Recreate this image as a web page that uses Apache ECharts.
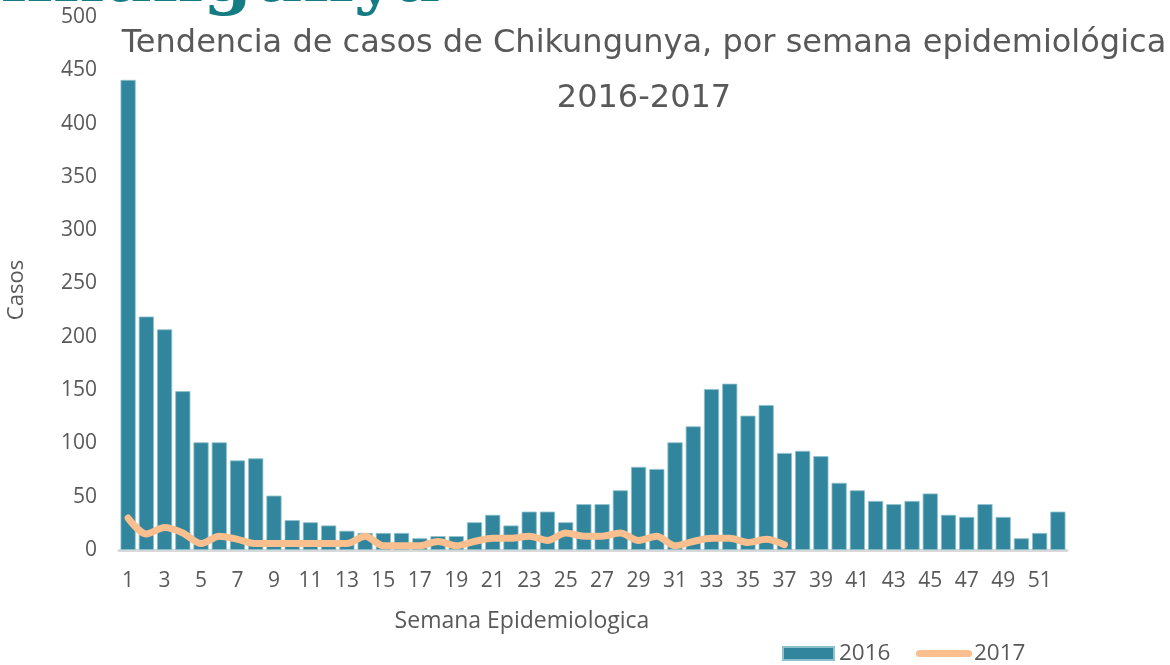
<!DOCTYPE html>
<html>
<head>
<meta charset="utf-8">
<script src="https://cdn.jsdelivr.net/npm/echarts@6/dist/echarts.min.js"></script>
<style>
html,body{margin:0;padding:0;background:#fff;}
#chart{width:1170px;height:665px;}
</style>
</head>
<body>
<div id="chart"></div>
<script>
const weeks = Array.from({length: 52}, (_, i) => String(i + 1));
const cases2016 = [441, 219, 207, 149, 101, 101, 84, 86, 51, 28, 26, 23, 18, 16, 16, 16, 11, 13, 13, 26,
  33, 23, 36, 36, 26, 43, 43, 56, 78, 76, 101, 116, 151, 156, 126, 136, 91, 93, 88, 63,
  56, 46, 43, 46, 53, 33, 31, 43, 31, 11, 16, 36];
const cases2017 = [30, 15, 21, 16, 6, 13, 10, 6, 6, 6, 6, 6, 6, 13, 4, 4, 4, 8, 4, 8,
  11, 11, 13, 9, 16, 13, 13, 16, 9, 13, 4, 8, 11, 11, 7, 10, 5];
const yTicks = {min: 0, max: 500, interval: 50};

const chart = echarts.init(document.getElementById('chart'));
const axisFont = '"Open Sans", Lato, sans-serif';
const grey = '#595959';
const capsule = 'path://M3.5,0 L52.5,0 A3.5,3.5 0 0 1 52.5,7 L3.5,7 A3.5,3.5 0 0 1 3.5,0 Z';
chart.setOption({
  animation: false,
  textStyle: {fontFamily: axisFont},
  title: {
    text: 'Tendencia de casos de Chikungunya, por semana epidemiológica\n2016-2017',
    left: 639, top: 11, textAlign: 'center',
    textStyle: {fontFamily: '"DejaVu Sans", sans-serif', fontSize: 32, fontWeight: 'normal', color: grey, lineHeight: 55}
  },
  graphic: [
    {type: 'text', right: 1170 - 440, top: -52, silent: true,
     style: {text: 'Chikungunya', font: 'bold 70px "DejaVu Serif", serif', fill: '#167C84'}},
    {type: 'text', x: 522, y: 621, silent: true,
     style: {text: 'Semana Epidemiologica', font: '23px ' + axisFont, fill: grey,
             textAlign: 'center', textVerticalAlign: 'middle'}},
    {type: 'text', x: 17, y: 290, rotation: Math.PI / 2, silent: true,
     style: {text: 'Casos', font: '22px ' + axisFont, fill: grey,
             textAlign: 'center', textVerticalAlign: 'middle'}}
  ],
  legend: [
    {left: 782, top: 642, padding: 0, itemWidth: 51, itemHeight: 13, itemGap: 26,
     textStyle: {fontSize: 22.5, color: grey, fontFamily: axisFont},
     data: [{name: '2016', icon: 'rect'}]},
    {left: 916, top: 642, padding: 0, itemWidth: 56, itemHeight: 7, itemGap: 26,
     textStyle: {fontSize: 22.5, color: grey, fontFamily: axisFont, padding: [0, 0, 0, -3]},
     data: [{name: '2017', icon: capsule, itemStyle: {color: '#F9BF8F'}}]}
  ],
  grid: {left: 119, right: 103, top: 17, bottom: 115, containLabel: false},
  xAxis: {
    type: 'category', data: weeks,
    axisLine: {lineStyle: {color: '#D9D9D9', width: 3}},
    axisTick: {show: false},
    axisLabel: {interval: 1, margin: 21, fontSize: 21, color: grey}
  },
  yAxis: {
    type: 'value', min: yTicks.min, max: yTicks.max, interval: yTicks.interval,
    axisLine: {show: false}, axisTick: {show: false}, splitLine: {show: false},
    axisLabel: {margin: 22, fontSize: 21, color: grey}
  },
  series: [
    {name: '2016', type: 'bar', data: cases2016, barCategoryGap: '17%',
     itemStyle: {color: '#31859C', borderColor: '#8EC1CE', borderWidth: 0.8}},
    {name: '2017', type: 'line', data: cases2017, smooth: 0.3, showSymbol: false, symbol: 'none',
     lineStyle: {color: '#F9BF8F', width: 7, cap: 'round', join: 'round'},
     itemStyle: {color: '#F9BF8F'}}
  ]
});
</script>
</body>
</html>
